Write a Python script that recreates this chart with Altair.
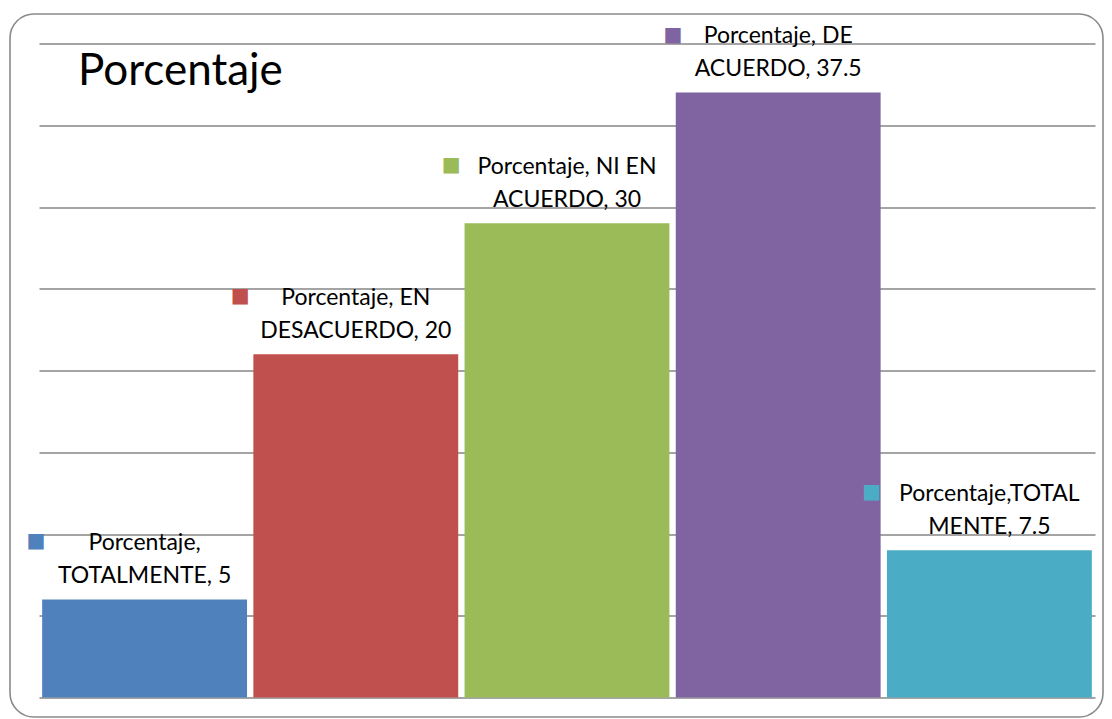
import altair as alt
import pandas as pd

# ---- data ----
categories = ["TOTALMENTE EN DESACUERDO", "EN DESACUERDO", "NI EN ACUERDO",
              "DE ACUERDO", "TOTALMENTE DE ACUERDO"]
bar_values = [6, 21, 29, 37, 9]          # bar heights as drawn (grid step = 5)
label_line1 = ["Porcentaje,", "Porcentaje, EN", "Porcentaje, NI EN",
               "Porcentaje, DE", "Porcentaje,TOTAL"]
label_line2 = ["TOTALMENTE, 5", "DESACUERDO, 20", "ACUERDO, 30",
               "ACUERDO, 37.5", "MENTE, 7.5"]
colors = ["#4F81BD", "#C0504D", "#9BBB59", "#8064A2", "#4BACC6"]
grid_values = [0, 5, 10, 15, 20, 25, 30, 35, 40]
chart_title = "Porcentaje"

df = pd.DataFrame({"cat": categories, "value": bar_values,
                   "l1": label_line1, "l2": label_line2})

FONT = "Lato"
LABEL_SIZE = 23
W, H = 1056, 654

# approximate text width (em units) to place the legend key left of the label
_em = {' ': 0.226, ',': 0.25, '.': 0.252, 'A': 0.579, 'C': 0.533, 'D': 0.615,
       'E': 0.488, 'I': 0.252, 'L': 0.42, 'M': 0.855, 'N': 0.646, 'O': 0.662,
       'P': 0.517, 'R': 0.543, 'S': 0.459, 'T': 0.487, 'U': 0.653, 'a': 0.479,
       'c': 0.423, 'e': 0.498, 'j': 0.246, 'n': 0.525, 'o': 0.527, 'r': 0.349,
       't': 0.335}
def text_w(s):
    return sum(_em.get(ch, 0.507) for ch in s) * 26

x_enc = alt.X("cat:N", sort=categories,
              scale=alt.Scale(paddingInner=0.03, paddingOuter=0.015), axis=None)
y_enc = alt.Y("value:Q", scale=alt.Scale(domain=[0, 40], nice=False, zero=True),
              axis=alt.Axis(values=grid_values, grid=True, labels=False, ticks=False,
                            domain=False, title=None, gridColor="#868686",
                            gridWidth=1.3))
color_enc = alt.Color("cat:N", scale=alt.Scale(domain=categories, range=colors),
                      legend=None)

base = alt.Chart(df)

frame = alt.Chart(pd.DataFrame({"k": [0]})).mark_rect(
    fillOpacity=0, stroke="#8A8A8A", strokeWidth=1.6, cornerRadius=24
).encode(x=alt.value(-29), x2=alt.value(W + 8), y=alt.value(-29.5), y2=alt.value(H + 19.5))

title = alt.Chart(pd.DataFrame({"t": [chart_title]})).mark_text(
    font=FONT, fontSize=44, color="black", align="left", baseline="alphabetic"
).encode(x=alt.value(39), y=alt.value(41.5), text="t:N")

bars = base.mark_bar().encode(x=x_enc, y=y_enc, color=color_enc)

line2 = base.mark_text(font=FONT, fontSize=LABEL_SIZE, color="black",
                       baseline="alphabetic", align="center", dy=-16.5).encode(
    x=x_enc, y="value:Q", text="l2:N")
line1 = base.mark_text(font=FONT, fontSize=LABEL_SIZE, color="black",
                       baseline="alphabetic", align="center", dy=-49.5).encode(
    x=x_enc, y="value:Q", text="l1:N")

keys = []
for c, a, b in zip(categories, label_line1, label_line2):
    wmax = max(text_w(a), text_w(b))
    keys.append(
        base.transform_filter(alt.datum.cat == c).mark_text(
            text="\u25A0", font="DejaVu Sans", fontSize=20, baseline="middle",
            align="center", dx=-(wmax / 2) - 23, dy=-58
        ).encode(x=x_enc, y="value:Q", color=color_enc)
    )

chart = alt.layer(frame, title, bars, line1, line2, *keys).properties(
    width=W, height=H,
    padding={"left": 31, "top": 35.5, "right": 9, "bottom": 21.5},
    autosize=alt.AutoSizeParams(type="none"),
).configure(background="white").configure_view(stroke=None)

chart.save("out.html", embed_options={"renderer": "svg", "actions": False})
